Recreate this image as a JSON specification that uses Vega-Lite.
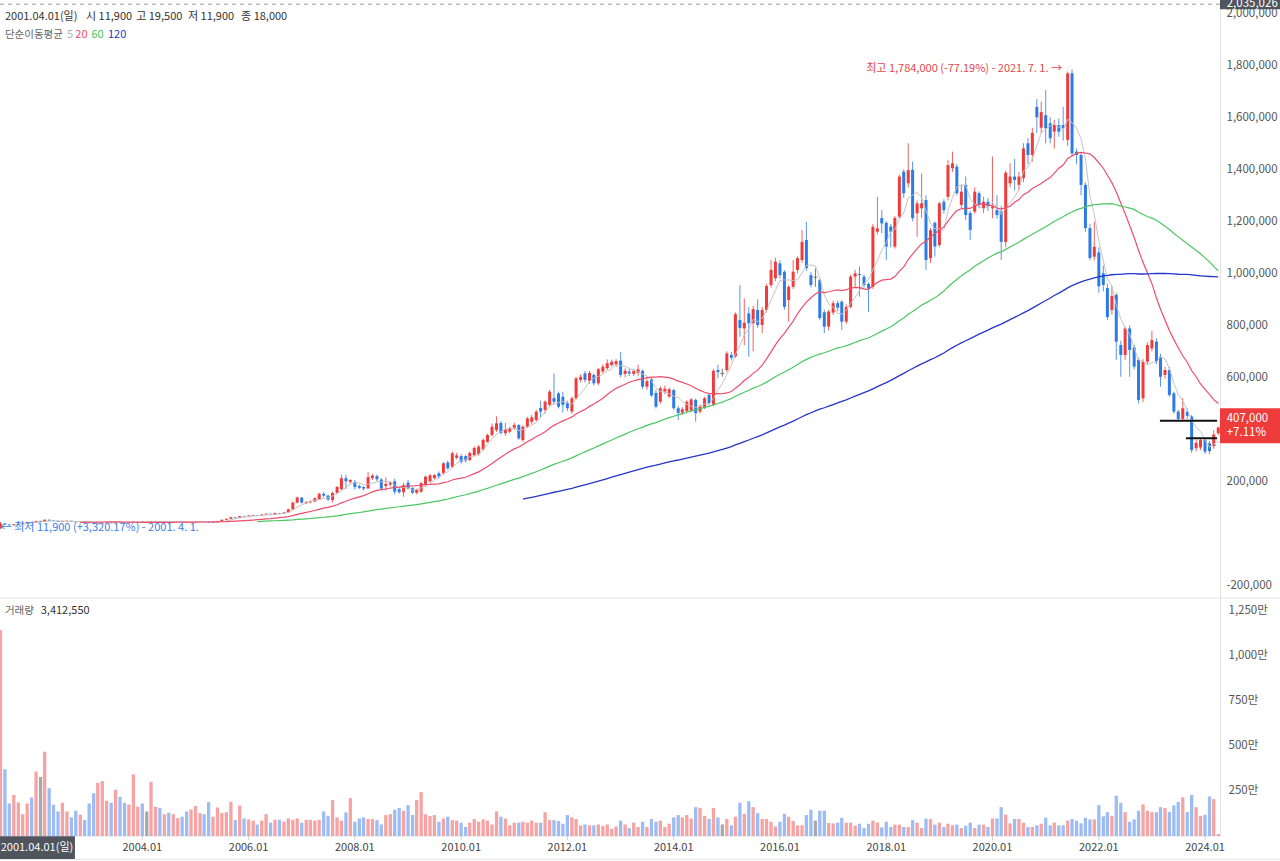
{
"$schema": "https://vega.github.io/schema/vega-lite/v6.json",
"width": 1220, "height": 836,
"autosize": {"type": "none"},
"padding": {"left": 0, "top": 0, "right": 60, "bottom": 25},
"background": "white",
"config": {"view": {"stroke": null}, "font": "Noto Sans CJK KR"},
"datasets": {"m": [
{"d":"2001-04-01","o":11900,"h":19500,"l":11900,"c":18000,"v":3412550},
{"d":"2001-05-01","o":18000,"h":44000,"l":17500,"c":38000,"v":11420000},
{"d":"2001-06-01","o":38000,"h":40000,"l":33000,"c":34000,"v":3700000},
{"d":"2001-07-01","o":34000,"h":35500,"l":30000,"c":31000,"v":1800000},
{"d":"2001-08-01","o":31000,"h":36000,"l":30500,"c":35000,"v":2280000},
{"d":"2001-09-01","o":35000,"h":38500,"l":33000,"c":37000,"v":1860000},
{"d":"2001-10-01","o":37000,"h":41000,"l":36000,"c":40000,"v":1210000},
{"d":"2001-11-01","o":40000,"h":44500,"l":39000,"c":43000,"v":1800000},
{"d":"2001-12-01","o":43000,"h":44000,"l":40000,"c":41000,"v":2130000},
{"d":"2002-01-01","o":41000,"h":48000,"l":40500,"c":46000,"v":3570000},
{"d":"2002-02-01","o":46000,"h":48000,"l":44000,"c":46000,"v":3270000},
{"d":"2002-03-01","o":46000,"h":54000,"l":45500,"c":52000,"v":4670000},
{"d":"2002-04-01","o":52000,"h":53500,"l":48000,"c":49000,"v":2650000},
{"d":"2002-05-01","o":49000,"h":50000,"l":46000,"c":47000,"v":1730000},
{"d":"2002-06-01","o":47000,"h":48000,"l":43000,"c":44000,"v":1360000},
{"d":"2002-07-01","o":44000,"h":47500,"l":43000,"c":46000,"v":1840000},
{"d":"2002-08-01","o":46000,"h":49000,"l":45000,"c":48000,"v":1360000},
{"d":"2002-09-01","o":48000,"h":48500,"l":44000,"c":45000,"v":1030000},
{"d":"2002-10-01","o":45000,"h":46000,"l":42000,"c":43000,"v":1400000},
{"d":"2002-11-01","o":43000,"h":46000,"l":42500,"c":45000,"v":1180000},
{"d":"2002-12-01","o":45000,"h":45500,"l":41000,"c":42000,"v":880000},
{"d":"2003-01-01","o":42000,"h":43000,"l":38500,"c":39000,"v":1800000},
{"d":"2003-02-01","o":39000,"h":40000,"l":35000,"c":36000,"v":2370000},
{"d":"2003-03-01","o":36000,"h":39000,"l":34500,"c":38000,"v":2940000},
{"d":"2003-04-01","o":38000,"h":42000,"l":37500,"c":41000,"v":3040000},
{"d":"2003-05-01","o":41000,"h":43000,"l":40000,"c":42000,"v":1950000},
{"d":"2003-06-01","o":42000,"h":42500,"l":39000,"c":40000,"v":1840000},
{"d":"2003-07-01","o":40000,"h":44000,"l":39500,"c":43000,"v":2560000},
{"d":"2003-08-01","o":43000,"h":43500,"l":40000,"c":41000,"v":2170000},
{"d":"2003-09-01","o":41000,"h":42000,"l":38000,"c":39000,"v":1840000},
{"d":"2003-10-01","o":39000,"h":42000,"l":38500,"c":41000,"v":1750000},
{"d":"2003-11-01","o":41000,"h":45500,"l":40500,"c":44000,"v":3420000},
{"d":"2003-12-01","o":44000,"h":46000,"l":43000,"c":45000,"v":1620000},
{"d":"2004-01-01","o":45000,"h":46000,"l":42000,"c":43000,"v":1800000},
{"d":"2004-02-01","o":43000,"h":44500,"l":42000,"c":43000,"v":1360000},
{"d":"2004-03-01","o":43000,"h":47500,"l":42500,"c":46000,"v":3000000},
{"d":"2004-04-01","o":46000,"h":48500,"l":45000,"c":47000,"v":1620000},
{"d":"2004-05-01","o":47000,"h":47500,"l":43000,"c":44000,"v":1550000},
{"d":"2004-06-01","o":44000,"h":46000,"l":43500,"c":45000,"v":1210000},
{"d":"2004-07-01","o":45000,"h":45500,"l":42000,"c":43000,"v":1290000},
{"d":"2004-08-01","o":43000,"h":45000,"l":42500,"c":44000,"v":1210000},
{"d":"2004-09-01","o":44000,"h":46000,"l":43500,"c":45000,"v":990000},
{"d":"2004-10-01","o":45000,"h":45500,"l":42000,"c":43000,"v":1070000},
{"d":"2004-11-01","o":43000,"h":43500,"l":40000,"c":41000,"v":1360000},
{"d":"2004-12-01","o":41000,"h":43000,"l":40500,"c":42000,"v":1470000},
{"d":"2005-01-01","o":42000,"h":45000,"l":41500,"c":44000,"v":1660000},
{"d":"2005-02-01","o":44000,"h":47000,"l":43500,"c":46000,"v":1270000},
{"d":"2005-03-01","o":46000,"h":46500,"l":43000,"c":44000,"v":1210000},
{"d":"2005-04-01","o":44000,"h":44500,"l":39000,"c":40000,"v":1880000},
{"d":"2005-05-01","o":40000,"h":44000,"l":39500,"c":43000,"v":1070000},
{"d":"2005-06-01","o":43000,"h":48000,"l":42500,"c":47000,"v":1580000},
{"d":"2005-07-01","o":47000,"h":53000,"l":46500,"c":52000,"v":1270000},
{"d":"2005-08-01","o":52000,"h":57000,"l":51000,"c":56000,"v":1320000},
{"d":"2005-09-01","o":56000,"h":63000,"l":55000,"c":62000,"v":1890000},
{"d":"2005-10-01","o":62000,"h":63000,"l":58000,"c":60000,"v":880000},
{"d":"2005-11-01","o":60000,"h":67000,"l":59500,"c":66000,"v":1690000},
{"d":"2005-12-01","o":66000,"h":68000,"l":63000,"c":65000,"v":970000},
{"d":"2006-01-01","o":65000,"h":70000,"l":64000,"c":68000,"v":920000},
{"d":"2006-02-01","o":68000,"h":72000,"l":67000,"c":70000,"v":850000},
{"d":"2006-03-01","o":70000,"h":71000,"l":66000,"c":68000,"v":640000},
{"d":"2006-04-01","o":68000,"h":74000,"l":67000,"c":72000,"v":850000},
{"d":"2006-05-01","o":72000,"h":77000,"l":70000,"c":75000,"v":1210000},
{"d":"2006-06-01","o":75000,"h":76000,"l":70000,"c":73000,"v":740000},
{"d":"2006-07-01","o":73000,"h":80000,"l":72000,"c":78000,"v":900000},
{"d":"2006-08-01","o":78000,"h":79000,"l":74000,"c":76000,"v":900000},
{"d":"2006-09-01","o":76000,"h":82000,"l":75000,"c":80000,"v":790000},
{"d":"2006-10-01","o":80000,"h":95000,"l":79000,"c":92000,"v":970000},
{"d":"2006-11-01","o":92000,"h":122000,"l":91000,"c":118000,"v":900000},
{"d":"2006-12-01","o":118000,"h":141000,"l":115000,"c":138000,"v":970000},
{"d":"2007-01-01","o":137000,"h":140000,"l":114000,"c":118000,"v":740000},
{"d":"2007-02-01","o":116000,"h":124000,"l":112000,"c":120000,"v":900000},
{"d":"2007-03-01","o":119000,"h":126000,"l":115000,"c":122000,"v":900000},
{"d":"2007-04-01","o":122000,"h":138000,"l":120000,"c":135000,"v":850000},
{"d":"2007-05-01","o":130000,"h":156000,"l":128000,"c":152000,"v":900000},
{"d":"2007-06-01","o":152000,"h":158000,"l":140000,"c":145000,"v":1360000},
{"d":"2007-07-01","o":145000,"h":148000,"l":125000,"c":130000,"v":1120000},
{"d":"2007-08-01","o":128000,"h":160000,"l":118000,"c":155000,"v":1990000},
{"d":"2007-09-01","o":156000,"h":182000,"l":152000,"c":178000,"v":1030000},
{"d":"2007-10-01","o":170000,"h":225000,"l":165000,"c":212000,"v":850000},
{"d":"2007-11-01","o":212000,"h":225000,"l":170000,"c":200000,"v":1310000},
{"d":"2007-12-01","o":198000,"h":208000,"l":190000,"c":205000,"v":2100000},
{"d":"2008-01-01","o":198000,"h":205000,"l":168000,"c":178000,"v":790000},
{"d":"2008-02-01","o":182000,"h":188000,"l":170000,"c":175000,"v":970000},
{"d":"2008-03-01","o":178000,"h":180000,"l":165000,"c":172000,"v":1030000},
{"d":"2008-04-01","o":173000,"h":236000,"l":170000,"c":216000,"v":940000},
{"d":"2008-05-01","o":212000,"h":228000,"l":205000,"c":222000,"v":940000},
{"d":"2008-06-01","o":220000,"h":226000,"l":200000,"c":208000,"v":880000},
{"d":"2008-07-01","o":207000,"h":212000,"l":165000,"c":172000,"v":640000},
{"d":"2008-08-01","o":182000,"h":215000,"l":165000,"c":190000,"v":1160000},
{"d":"2008-09-01","o":188000,"h":200000,"l":180000,"c":195000,"v":1210000},
{"d":"2008-10-01","o":200000,"h":210000,"l":150000,"c":160000,"v":1450000},
{"d":"2008-11-01","o":170000,"h":180000,"l":152000,"c":158000,"v":1550000},
{"d":"2008-12-01","o":158000,"h":195000,"l":140000,"c":185000,"v":1400000},
{"d":"2009-01-01","o":195000,"h":205000,"l":168000,"c":172000,"v":1710000},
{"d":"2009-02-01","o":174000,"h":178000,"l":152000,"c":156000,"v":1160000},
{"d":"2009-03-01","o":156000,"h":172000,"l":150000,"c":167000,"v":1990000},
{"d":"2009-04-01","o":160000,"h":198000,"l":155000,"c":193000,"v":2430000},
{"d":"2009-05-01","o":185000,"h":222000,"l":180000,"c":218000,"v":1210000},
{"d":"2009-06-01","o":200000,"h":228000,"l":195000,"c":223000,"v":1100000},
{"d":"2009-07-01","o":212000,"h":228000,"l":208000,"c":224000,"v":1160000},
{"d":"2009-08-01","o":231000,"h":238000,"l":210000,"c":218000,"v":790000},
{"d":"2009-09-01","o":231000,"h":275000,"l":225000,"c":269000,"v":970000},
{"d":"2009-10-01","o":272000,"h":280000,"l":245000,"c":250000,"v":1070000},
{"d":"2009-11-01","o":256000,"h":315000,"l":250000,"c":308000,"v":880000},
{"d":"2009-12-01","o":290000,"h":310000,"l":285000,"c":300000,"v":850000},
{"d":"2010-01-01","o":297000,"h":305000,"l":268000,"c":275000,"v":740000},
{"d":"2010-02-01","o":297000,"h":302000,"l":272000,"c":280000,"v":500000},
{"d":"2010-03-01","o":282000,"h":314000,"l":278000,"c":309000,"v":740000},
{"d":"2010-04-01","o":300000,"h":334000,"l":295000,"c":328000,"v":940000},
{"d":"2010-05-01","o":305000,"h":340000,"l":298000,"c":333000,"v":790000},
{"d":"2010-06-01","o":323000,"h":365000,"l":318000,"c":359000,"v":920000},
{"d":"2010-07-01","o":352000,"h":383000,"l":348000,"c":378000,"v":850000},
{"d":"2010-08-01","o":378000,"h":422000,"l":372000,"c":410000,"v":640000},
{"d":"2010-09-01","o":397000,"h":450000,"l":390000,"c":423000,"v":1360000},
{"d":"2010-10-01","o":424000,"h":432000,"l":380000,"c":386000,"v":1070000},
{"d":"2010-11-01","o":385000,"h":425000,"l":375000,"c":400000,"v":970000},
{"d":"2010-12-01","o":391000,"h":410000,"l":385000,"c":404000,"v":590000},
{"d":"2011-01-01","o":404000,"h":425000,"l":398000,"c":417000,"v":740000},
{"d":"2011-02-01","o":416000,"h":420000,"l":360000,"c":365000,"v":740000},
{"d":"2011-03-01","o":359000,"h":415000,"l":352000,"c":410000,"v":790000},
{"d":"2011-04-01","o":410000,"h":448000,"l":405000,"c":442000,"v":740000},
{"d":"2011-05-01","o":429000,"h":455000,"l":420000,"c":446000,"v":850000},
{"d":"2011-06-01","o":436000,"h":475000,"l":430000,"c":468000,"v":740000},
{"d":"2011-07-01","o":482000,"h":510000,"l":445000,"c":468000,"v":740000},
{"d":"2011-08-01","o":474000,"h":512000,"l":460000,"c":506000,"v":1320000},
{"d":"2011-09-01","o":494000,"h":552000,"l":488000,"c":545000,"v":880000},
{"d":"2011-10-01","o":520000,"h":615000,"l":495000,"c":506000,"v":880000},
{"d":"2011-11-01","o":538000,"h":545000,"l":480000,"c":487000,"v":830000},
{"d":"2011-12-01","o":525000,"h":545000,"l":465000,"c":494000,"v":680000},
{"d":"2012-01-01","o":500000,"h":510000,"l":470000,"c":481000,"v":1160000},
{"d":"2012-02-01","o":468000,"h":525000,"l":460000,"c":519000,"v":1030000},
{"d":"2012-03-01","o":519000,"h":602000,"l":515000,"c":596000,"v":940000},
{"d":"2012-04-01","o":590000,"h":612000,"l":580000,"c":602000,"v":590000},
{"d":"2012-05-01","o":615000,"h":625000,"l":580000,"c":590000,"v":640000},
{"d":"2012-06-01","o":586000,"h":625000,"l":575000,"c":617000,"v":590000},
{"d":"2012-07-01","o":609000,"h":615000,"l":568000,"c":577000,"v":590000},
{"d":"2012-08-01","o":577000,"h":636000,"l":570000,"c":631000,"v":640000},
{"d":"2012-09-01","o":622000,"h":650000,"l":615000,"c":641000,"v":550000},
{"d":"2012-10-01","o":635000,"h":669000,"l":628000,"c":654000,"v":640000},
{"d":"2012-11-01","o":647000,"h":668000,"l":640000,"c":660000,"v":400000},
{"d":"2012-12-01","o":650000,"h":670000,"l":640000,"c":662000,"v":530000},
{"d":"2013-01-01","o":664000,"h":698000,"l":600000,"c":609000,"v":850000},
{"d":"2013-02-01","o":613000,"h":635000,"l":600000,"c":625000,"v":640000},
{"d":"2013-03-01","o":622000,"h":632000,"l":605000,"c":615000,"v":440000},
{"d":"2013-04-01","o":613000,"h":632000,"l":605000,"c":624000,"v":740000},
{"d":"2013-05-01","o":617000,"h":648000,"l":606000,"c":631000,"v":500000},
{"d":"2013-06-01","o":625000,"h":630000,"l":555000,"c":564000,"v":790000},
{"d":"2013-07-01","o":564000,"h":596000,"l":552000,"c":585000,"v":500000},
{"d":"2013-08-01","o":592000,"h":598000,"l":525000,"c":530000,"v":940000},
{"d":"2013-09-01","o":540000,"h":552000,"l":480000,"c":487000,"v":790000},
{"d":"2013-10-01","o":506000,"h":565000,"l":498000,"c":558000,"v":850000},
{"d":"2013-11-01","o":545000,"h":568000,"l":535000,"c":556000,"v":500000},
{"d":"2013-12-01","o":526000,"h":560000,"l":520000,"c":554000,"v":680000},
{"d":"2014-01-01","o":551000,"h":556000,"l":475000,"c":481000,"v":1030000},
{"d":"2014-02-01","o":481000,"h":490000,"l":436000,"c":463000,"v":1160000},
{"d":"2014-03-01","o":464000,"h":485000,"l":455000,"c":477000,"v":1030000},
{"d":"2014-04-01","o":470000,"h":512000,"l":462000,"c":506000,"v":1160000},
{"d":"2014-05-01","o":472000,"h":520000,"l":465000,"c":515000,"v":970000},
{"d":"2014-06-01","o":513000,"h":518000,"l":429000,"c":462000,"v":1600000},
{"d":"2014-07-01","o":468000,"h":495000,"l":460000,"c":487000,"v":1560000},
{"d":"2014-08-01","o":485000,"h":525000,"l":478000,"c":519000,"v":1120000},
{"d":"2014-09-01","o":532000,"h":540000,"l":492000,"c":500000,"v":940000},
{"d":"2014-10-01","o":495000,"h":632000,"l":488000,"c":625000,"v":1560000},
{"d":"2014-11-01","o":628000,"h":648000,"l":596000,"c":620000,"v":1030000},
{"d":"2014-12-01","o":615000,"h":633000,"l":602000,"c":615000,"v":640000},
{"d":"2015-01-01","o":628000,"h":700000,"l":620000,"c":692000,"v":940000},
{"d":"2015-02-01","o":686000,"h":698000,"l":665000,"c":675000,"v":590000},
{"d":"2015-03-01","o":680000,"h":850000,"l":675000,"c":843000,"v":1070000},
{"d":"2015-04-01","o":820000,"h":955000,"l":756000,"c":790000,"v":1840000},
{"d":"2015-05-01","o":788000,"h":904000,"l":724000,"c":810000,"v":1230000},
{"d":"2015-06-01","o":846000,"h":870000,"l":679000,"c":808000,"v":1930000},
{"d":"2015-07-01","o":808000,"h":875000,"l":700000,"c":862000,"v":1600000},
{"d":"2015-08-01","o":859000,"h":900000,"l":790000,"c":801000,"v":1270000},
{"d":"2015-09-01","o":801000,"h":870000,"l":769000,"c":859000,"v":940000},
{"d":"2015-10-01","o":859000,"h":960000,"l":850000,"c":951000,"v":940000},
{"d":"2015-11-01","o":955000,"h":1051000,"l":945000,"c":1013000,"v":790000},
{"d":"2015-12-01","o":981000,"h":1060000,"l":970000,"c":1045000,"v":530000},
{"d":"2016-01-01","o":1038000,"h":1050000,"l":980000,"c":993000,"v":790000},
{"d":"2016-02-01","o":1006000,"h":1012000,"l":860000,"c":871000,"v":1230000},
{"d":"2016-03-01","o":897000,"h":955000,"l":814000,"c":948000,"v":1070000},
{"d":"2016-04-01","o":948000,"h":1051000,"l":940000,"c":1006000,"v":830000},
{"d":"2016-05-01","o":1013000,"h":1065000,"l":1000000,"c":1058000,"v":590000},
{"d":"2016-06-01","o":1051000,"h":1166000,"l":1040000,"c":1121000,"v":590000},
{"d":"2016-07-01","o":1128000,"h":1198000,"l":1010000,"c":1020000,"v":1160000},
{"d":"2016-08-01","o":993000,"h":1005000,"l":945000,"c":955000,"v":1450000},
{"d":"2016-09-01","o":985000,"h":1019000,"l":948000,"c":985000,"v":850000},
{"d":"2016-10-01","o":974000,"h":980000,"l":820000,"c":828000,"v":1400000},
{"d":"2016-11-01","o":850000,"h":860000,"l":770000,"c":795000,"v":1400000},
{"d":"2016-12-01","o":795000,"h":860000,"l":780000,"c":853000,"v":720000},
{"d":"2017-01-01","o":849000,"h":895000,"l":840000,"c":885000,"v":700000},
{"d":"2017-02-01","o":885000,"h":895000,"l":855000,"c":868000,"v":740000},
{"d":"2017-03-01","o":891000,"h":895000,"l":782000,"c":814000,"v":1010000},
{"d":"2017-04-01","o":814000,"h":880000,"l":805000,"c":870000,"v":740000},
{"d":"2017-05-01","o":871000,"h":995000,"l":865000,"c":987000,"v":740000},
{"d":"2017-06-01","o":987000,"h":1013000,"l":948000,"c":1000000,"v":570000},
{"d":"2017-07-01","o":997000,"h":1026000,"l":910000,"c":993000,"v":680000},
{"d":"2017-08-01","o":987000,"h":995000,"l":945000,"c":955000,"v":440000},
{"d":"2017-09-01","o":959000,"h":965000,"l":852000,"c":942000,"v":680000},
{"d":"2017-10-01","o":948000,"h":1190000,"l":940000,"c":1179000,"v":850000},
{"d":"2017-11-01","o":1160000,"h":1294000,"l":1150000,"c":1173000,"v":740000},
{"d":"2017-12-01","o":1212000,"h":1244000,"l":1154000,"c":1192000,"v":480000},
{"d":"2018-01-01","o":1194000,"h":1200000,"l":1051000,"c":1103000,"v":790000},
{"d":"2018-02-01","o":1180000,"h":1190000,"l":1100000,"c":1160000,"v":500000},
{"d":"2018-03-01","o":1103000,"h":1220000,"l":1095000,"c":1213000,"v":630000},
{"d":"2018-04-01","o":1218000,"h":1380000,"l":1210000,"c":1372000,"v":630000},
{"d":"2018-05-01","o":1391000,"h":1400000,"l":1290000,"c":1308000,"v":500000},
{"d":"2018-06-01","o":1346000,"h":1500000,"l":1330000,"c":1397000,"v":500000},
{"d":"2018-07-01","o":1398000,"h":1430000,"l":1200000,"c":1212000,"v":880000},
{"d":"2018-08-01","o":1231000,"h":1280000,"l":1141000,"c":1269000,"v":740000},
{"d":"2018-09-01","o":1250000,"h":1384000,"l":1212000,"c":1269000,"v":440000},
{"d":"2018-10-01","o":1282000,"h":1300000,"l":1013000,"c":1051000,"v":960000},
{"d":"2018-11-01","o":1058000,"h":1175000,"l":1040000,"c":1166000,"v":940000},
{"d":"2018-12-01","o":1194000,"h":1200000,"l":1064000,"c":1103000,"v":630000},
{"d":"2019-01-01","o":1109000,"h":1275000,"l":1100000,"c":1269000,"v":740000},
{"d":"2019-02-01","o":1275000,"h":1285000,"l":1230000,"c":1243000,"v":500000},
{"d":"2019-03-01","o":1294000,"h":1436000,"l":1280000,"c":1416000,"v":680000},
{"d":"2019-04-01","o":1404000,"h":1468000,"l":1390000,"c":1423000,"v":590000},
{"d":"2019-05-01","o":1410000,"h":1420000,"l":1300000,"c":1308000,"v":630000},
{"d":"2019-06-01","o":1263000,"h":1340000,"l":1250000,"c":1314000,"v":440000},
{"d":"2019-07-01","o":1340000,"h":1372000,"l":1205000,"c":1224000,"v":570000},
{"d":"2019-08-01","o":1232000,"h":1240000,"l":1128000,"c":1167000,"v":740000},
{"d":"2019-09-01","o":1237000,"h":1330000,"l":1230000,"c":1314000,"v":440000},
{"d":"2019-10-01","o":1308000,"h":1315000,"l":1250000,"c":1263000,"v":630000},
{"d":"2019-11-01","o":1250000,"h":1295000,"l":1231000,"c":1275000,"v":630000},
{"d":"2019-12-01","o":1275000,"h":1290000,"l":1240000,"c":1257000,"v":500000},
{"d":"2020-01-01","o":1250000,"h":1449000,"l":1212000,"c":1257000,"v":970000},
{"d":"2020-02-01","o":1243000,"h":1300000,"l":1210000,"c":1224000,"v":970000},
{"d":"2020-03-01","o":1237000,"h":1260000,"l":1051000,"c":1121000,"v":1600000},
{"d":"2020-04-01","o":1121000,"h":1395000,"l":1100000,"c":1387000,"v":1180000},
{"d":"2020-05-01","o":1346000,"h":1423000,"l":1330000,"c":1372000,"v":700000},
{"d":"2020-06-01","o":1372000,"h":1440000,"l":1320000,"c":1359000,"v":940000},
{"d":"2020-07-01","o":1340000,"h":1390000,"l":1320000,"c":1372000,"v":940000},
{"d":"2020-08-01","o":1366000,"h":1500000,"l":1350000,"c":1480000,"v":740000},
{"d":"2020-09-01","o":1500000,"h":1520000,"l":1420000,"c":1455000,"v":500000},
{"d":"2020-10-01","o":1455000,"h":1560000,"l":1430000,"c":1540000,"v":500000},
{"d":"2020-11-01","o":1640000,"h":1670000,"l":1540000,"c":1600000,"v":590000},
{"d":"2020-12-01","o":1560000,"h":1660000,"l":1540000,"c":1620000,"v":680000},
{"d":"2021-01-01","o":1608000,"h":1705000,"l":1500000,"c":1558000,"v":1010000},
{"d":"2021-02-01","o":1577000,"h":1600000,"l":1500000,"c":1519000,"v":590000},
{"d":"2021-03-01","o":1545000,"h":1590000,"l":1480000,"c":1570000,"v":740000},
{"d":"2021-04-01","o":1570000,"h":1595000,"l":1525000,"c":1545000,"v":590000},
{"d":"2021-05-01","o":1570000,"h":1640000,"l":1510000,"c":1558000,"v":590000},
{"d":"2021-06-01","o":1513000,"h":1776000,"l":1490000,"c":1769000,"v":850000},
{"d":"2021-07-01","o":1769000,"h":1784000,"l":1450000,"c":1461000,"v":940000},
{"d":"2021-08-01","o":1468000,"h":1480000,"l":1420000,"c":1455000,"v":850000},
{"d":"2021-09-01","o":1455000,"h":1465000,"l":1300000,"c":1340000,"v":700000},
{"d":"2021-10-01","o":1340000,"h":1350000,"l":1160000,"c":1174000,"v":1010000},
{"d":"2021-11-01","o":1174000,"h":1190000,"l":1050000,"c":1059000,"v":920000},
{"d":"2021-12-01","o":1064000,"h":1198000,"l":1050000,"c":1102000,"v":920000},
{"d":"2022-01-01","o":1080000,"h":1100000,"l":925000,"c":950000,"v":1710000},
{"d":"2022-02-01","o":1000000,"h":1030000,"l":930000,"c":955000,"v":1090000},
{"d":"2022-03-01","o":943000,"h":960000,"l":820000,"c":832000,"v":1320000},
{"d":"2022-04-01","o":859000,"h":951000,"l":840000,"c":913000,"v":1120000},
{"d":"2022-05-01","o":917000,"h":925000,"l":667000,"c":737000,"v":2230000},
{"d":"2022-06-01","o":724000,"h":740000,"l":602000,"c":686000,"v":1840000},
{"d":"2022-07-01","o":686000,"h":795000,"l":667000,"c":788000,"v":1320000},
{"d":"2022-08-01","o":788000,"h":800000,"l":602000,"c":705000,"v":790000},
{"d":"2022-09-01","o":715000,"h":725000,"l":630000,"c":641000,"v":920000},
{"d":"2022-10-01","o":667000,"h":675000,"l":500000,"c":513000,"v":1400000},
{"d":"2022-11-01","o":519000,"h":670000,"l":505000,"c":660000,"v":1750000},
{"d":"2022-12-01","o":660000,"h":735000,"l":650000,"c":724000,"v":1400000},
{"d":"2023-01-01","o":711000,"h":778000,"l":700000,"c":743000,"v":1320000},
{"d":"2023-02-01","o":737000,"h":750000,"l":650000,"c":660000,"v":1320000},
{"d":"2023-03-01","o":679000,"h":690000,"l":564000,"c":602000,"v":1600000},
{"d":"2023-04-01","o":609000,"h":640000,"l":595000,"c":628000,"v":1550000},
{"d":"2023-05-01","o":628000,"h":640000,"l":525000,"c":532000,"v":1340000},
{"d":"2023-06-01","o":538000,"h":545000,"l":460000,"c":468000,"v":1690000},
{"d":"2023-07-01","o":468000,"h":475000,"l":430000,"c":440000,"v":1890000},
{"d":"2023-08-01","o":440000,"h":519000,"l":430000,"c":481000,"v":2140000},
{"d":"2023-09-01","o":468000,"h":480000,"l":440000,"c":452000,"v":1320000},
{"d":"2023-10-01","o":449000,"h":455000,"l":310000,"c":320000,"v":2280000},
{"d":"2023-11-01","o":327000,"h":360000,"l":315000,"c":348000,"v":1600000},
{"d":"2023-12-01","o":330000,"h":365000,"l":320000,"c":359000,"v":1120000},
{"d":"2024-01-01","o":359000,"h":365000,"l":305000,"c":314000,"v":1180000},
{"d":"2024-02-01","o":346000,"h":355000,"l":305000,"c":316000,"v":2190000},
{"d":"2024-03-01","o":335000,"h":397000,"l":325000,"c":380000,"v":2040000},
{"d":"2024-04-01","o":385000,"h":410000,"l":378000,"c":407000,"v":110000}
],
"ticks": [
{"t":"2004-01-01","lab":"2004.01"},
{"t":"2006-01-01","lab":"2006.01"},
{"t":"2008-01-01","lab":"2008.01"},
{"t":"2010-01-01","lab":"2010.01"},
{"t":"2012-01-01","lab":"2012.01"},
{"t":"2014-01-01","lab":"2014.01"},
{"t":"2016-01-01","lab":"2016.01"},
{"t":"2018-01-01","lab":"2018.01"},
{"t":"2020-01-01","lab":"2020.01"},
{"t":"2022-01-01","lab":"2022.01"},
{"t":"2024-01-01","lab":"2024.01"}
]},
"layer": [
{"data": {"values": [{}]},
 "mark": {"type": "rule", "color": "#e0e0e0", "strokeWidth": 1},
 "encoding": {"y": {"datum": 0, "type": "quantitative", "axis": null, "scale": {"domain": [0, 46320000], "nice": false, "zero": false, "padding": 0}}}},
{"data": {"values": [{}]},
 "mark": {"type": "rule", "color": "#e6e6e6", "strokeWidth": 1, "clip": false},
 "encoding": {
  "x": {"datum": {"year": 2001, "month": 4, "date": 28, "utc": true}, "type": "temporal", "axis": null, "scale": {"type": "utc", "padding": 0, "domain": [{"year": 2001, "month": 4, "date": 28, "utc": true}, {"year": 2024, "month": 4, "date": 13, "utc": true}]}},
  "x2": {"datum": {"year": 2025, "month": 6, "date": 1, "utc": true}},
  "y": {"datum": -1291000, "type": "quantitative", "axis": null, "scale": {"domain": [0, 46320000], "nice": false, "zero": false, "padding": 0}}}},
{"data": {"name": "m"},
 "mark": {"type": "bar", "width": 3.3},
 "encoding": {
  "x": {"field": "d", "type": "temporal", "axis": null,
   "scale": {"type": "utc", "padding": 0, "domain": [{"year": 2001, "month": 4, "date": 28, "utc": true}, {"year": 2024, "month": 4, "date": 13, "utc": true}]}},
  "y": {"field": "v", "type": "quantitative", "title": null,
   "scale": {"domain": [0, 46320000], "nice": false, "zero": false, "padding": 0},
   "axis": {"orient": "right", "title": null, "grid": false, "ticks": false, "domain": false, "labelColor": "#555", "labelFontSize": 11.5, "labelPadding": 8, "labelFlush": false, "labelOverlap": false, "labelBound": false, "labelFont": "Noto Sans CJK KR",
    "values": [2500000, 5000000, 7500000, 10000000, 12500000],
    "labelExpr": "format(datum.value / 10000, ',') + '만'"}},
  "color": {"condition": [{"test": "datum.c > datum.o", "value": "#f6a3a3"}, {"test": "datum.c < datum.o", "value": "#9dbcf4"}], "value": "#a8a8a8"}
 }},
{"data": {"name": "ticks"},
 "mark": {"type": "rule", "color": "#cfcfcf", "strokeWidth": 1, "clip": false},
 "encoding": {
  "x": {"field": "t", "type": "temporal", "axis": null, "scale": {"type": "utc", "padding": 0, "domain": [{"year": 2001, "month": 4, "date": 28, "utc": true}, {"year": 2024, "month": 4, "date": 13, "utc": true}]}},
  "y": {"datum": 0, "type": "quantitative", "axis": null, "scale": {"domain": [0, 46320000], "nice": false, "zero": false, "padding": 0}},
  "y2": {"datum": -220000}}},
{"data": {"name": "ticks"},
 "mark": {"type": "text", "align": "center", "baseline": "middle", "fontSize": 11, "color": "#444444", "clip": false},
 "encoding": {
  "x": {"field": "t", "type": "temporal", "axis": null, "scale": {"type": "utc", "padding": 0, "domain": [{"year": 2001, "month": 4, "date": 28, "utc": true}, {"year": 2024, "month": 4, "date": 13, "utc": true}]}},
  "y": {"datum": -665000, "type": "quantitative", "axis": null, "scale": {"domain": [0, 46320000], "nice": false, "zero": false, "padding": 0}},
  "text": {"field": "lab", "type": "nominal"}}},
{"data": {"name": "m"},
 "mark": {"type": "rule", "strokeWidth": 1, "opacity": 0.8},
 "encoding": {
  "x": {"field": "d", "type": "temporal", "axis": null, "scale": {"type": "utc", "padding": 0, "domain": [{"year": 2001, "month": 4, "date": 28, "utc": true}, {"year": 2024, "month": 4, "date": 13, "utc": true}]}},
  "y": {"field": "l", "type": "quantitative", "axis": null, "scale": {"domain": [-1164231, 2051154], "nice": false, "zero": false, "padding": 0}},
  "y2": {"field": "h"},
  "color": {"condition": [{"test": "datum.c > datum.o", "value": "#ee3b3b"}, {"test": "datum.c < datum.o", "value": "#2d7be5"}], "value": "#555555"}
 }},
{"data": {"name": "m"},
 "mark": {"type": "bar", "width": 3},
 "encoding": {
  "x": {"field": "d", "type": "temporal", "axis": null, "scale": {"type": "utc", "padding": 0, "domain": [{"year": 2001, "month": 4, "date": 28, "utc": true}, {"year": 2024, "month": 4, "date": 13, "utc": true}]}},
  "y": {"field": "o", "type": "quantitative", "title": null, "scale": {"domain": [-1164231, 2051154], "nice": false, "zero": false, "padding": 0},
   "axis": {"orient": "right", "title": null, "grid": false, "ticks": false, "domain": true, "domainColor": "#e3e3e3", "labelColor": "#555", "labelFontSize": 11.5, "labelPadding": 6, "labelFlush": false, "labelOverlap": false, "labelBound": false, "labelFont": "Noto Sans CJK KR",
    "values": [-200000, 200000, 600000, 800000, 1000000, 1200000, 1400000, 1600000, 1800000, 2000000],
    "labelExpr": "replace(format(datum.value, ','), '\u2212', '-')"}},
  "y2": {"field": "c"},
  "color": {"condition": [{"test": "datum.c > datum.o", "value": "#ee3b3b"}, {"test": "datum.c < datum.o", "value": "#2d7be5"}], "value": "#555555"}
 }},
{"data": {"name": "m"},
 "transform": [{"filter": "datum.o == datum.c"}],
 "mark": {"type": "tick", "orient": "horizontal", "size": 4, "thickness": 1, "color": "#555555"},
 "encoding": {
  "x": {"field": "d", "type": "temporal", "axis": null, "scale": {"type": "utc", "padding": 0, "domain": [{"year": 2001, "month": 4, "date": 28, "utc": true}, {"year": 2024, "month": 4, "date": 13, "utc": true}]}},
  "y": {"field": "c", "type": "quantitative", "axis": null, "scale": {"domain": [-1164231, 2051154], "nice": false, "zero": false, "padding": 0}}
 }},
{"data": {"name": "m"},
 "transform": [{"window": [{"op": "mean", "field": "c", "as": "ma"}, {"op": "count", "as": "n"}], "frame": [-4, 0], "sort": [{"field": "d"}]}, {"filter": "datum.n >= 5"}],
 "mark": {"type": "line", "strokeWidth": 1, "color": "#c4c4c4"},
 "encoding": {
  "x": {"field": "d", "type": "temporal", "axis": null, "scale": {"type": "utc", "padding": 0, "domain": [{"year": 2001, "month": 4, "date": 28, "utc": true}, {"year": 2024, "month": 4, "date": 13, "utc": true}]}},
  "y": {"field": "ma", "type": "quantitative", "axis": null, "scale": {"domain": [-1164231, 2051154], "nice": false, "zero": false, "padding": 0}}
 }},
{"data": {"name": "m"},
 "transform": [{"window": [{"op": "mean", "field": "c", "as": "ma"}, {"op": "count", "as": "n"}], "frame": [-19, 0], "sort": [{"field": "d"}]}, {"filter": "datum.n >= 20"}],
 "mark": {"type": "line", "strokeWidth": 1.2, "color": "#ee4d6a"},
 "encoding": {
  "x": {"field": "d", "type": "temporal", "axis": null, "scale": {"type": "utc", "padding": 0, "domain": [{"year": 2001, "month": 4, "date": 28, "utc": true}, {"year": 2024, "month": 4, "date": 13, "utc": true}]}},
  "y": {"field": "ma", "type": "quantitative", "axis": null, "scale": {"domain": [-1164231, 2051154], "nice": false, "zero": false, "padding": 0}}
 }},
{"data": {"name": "m"},
 "transform": [{"window": [{"op": "mean", "field": "c", "as": "ma"}, {"op": "count", "as": "n"}], "frame": [-59, 0], "sort": [{"field": "d"}]}, {"filter": "datum.n >= 60"}],
 "mark": {"type": "line", "strokeWidth": 1.2, "color": "#4cc764"},
 "encoding": {
  "x": {"field": "d", "type": "temporal", "axis": null, "scale": {"type": "utc", "padding": 0, "domain": [{"year": 2001, "month": 4, "date": 28, "utc": true}, {"year": 2024, "month": 4, "date": 13, "utc": true}]}},
  "y": {"field": "ma", "type": "quantitative", "axis": null, "scale": {"domain": [-1164231, 2051154], "nice": false, "zero": false, "padding": 0}}
 }},
{"data": {"name": "m"},
 "transform": [{"window": [{"op": "mean", "field": "c", "as": "ma"}, {"op": "count", "as": "n"}], "frame": [-119, 0], "sort": [{"field": "d"}]}, {"filter": "datum.n >= 120"}],
 "mark": {"type": "line", "strokeWidth": 1.3, "color": "#2536c8"},
 "encoding": {
  "x": {"field": "d", "type": "temporal", "axis": null, "scale": {"type": "utc", "padding": 0, "domain": [{"year": 2001, "month": 4, "date": 28, "utc": true}, {"year": 2024, "month": 4, "date": 13, "utc": true}]}},
  "y": {"field": "ma", "type": "quantitative", "axis": null, "scale": {"domain": [-1164231, 2051154], "nice": false, "zero": false, "padding": 0}}
 }},
{"data": {"values": [{}]},
 "mark": {"type": "rule", "color": "#e4e4e4", "strokeWidth": 1, "clip": false},
 "encoding": {
  "x": {"datum": {"year": 2001, "month": 4, "date": 28, "utc": true}, "type": "temporal", "axis": null, "scale": {"type": "utc", "padding": 0, "domain": [{"year": 2001, "month": 4, "date": 28, "utc": true}, {"year": 2024, "month": 4, "date": 13, "utc": true}]}},
  "x2": {"datum": {"year": 2025, "month": 6, "date": 1, "utc": true}},
  "y": {"datum": -248800, "type": "quantitative", "axis": null, "scale": {"domain": [-1164231, 2051154], "nice": false, "zero": false, "padding": 0}}}},
{"data": {"values": [{}]},
 "mark": {"type": "rule", "color": "#9a9a9a", "strokeWidth": 1, "strokeDash": [4, 4]},
 "encoding": {"y": {"datum": 2035026, "type": "quantitative", "axis": null, "scale": {"domain": [-1164231, 2051154], "nice": false, "zero": false, "padding": 0}}}},
{"data": {"values": [{}]},
 "mark": {"type": "rule", "color": "#111111", "strokeWidth": 2},
 "encoding": {
  "x": {"datum": {"year": 2023, "month": 2, "date": 25, "utc": true}, "type": "temporal", "axis": null, "scale": {"type": "utc", "padding": 0, "domain": [{"year": 2001, "month": 4, "date": 28, "utc": true}, {"year": 2024, "month": 4, "date": 13, "utc": true}]}},
  "x2": {"datum": {"year": 2024, "month": 3, "date": 24, "utc": true}},
  "y": {"datum": 433000, "type": "quantitative", "axis": null, "scale": {"domain": [-1164231, 2051154], "nice": false, "zero": false, "padding": 0}}}},
{"data": {"values": [{}]},
 "mark": {"type": "rule", "color": "#111111", "strokeWidth": 2},
 "encoding": {
  "x": {"datum": {"year": 2023, "month": 8, "date": 23, "utc": true}, "type": "temporal", "axis": null, "scale": {"type": "utc", "padding": 0, "domain": [{"year": 2001, "month": 4, "date": 28, "utc": true}, {"year": 2024, "month": 4, "date": 13, "utc": true}]}},
  "x2": {"datum": {"year": 2024, "month": 3, "date": 24, "utc": true}},
  "y": {"datum": 365400, "type": "quantitative", "axis": null, "scale": {"domain": [-1164231, 2051154], "nice": false, "zero": false, "padding": 0}}}},
{"data": {"values": [{}]},
 "mark": {"type": "rect", "color": "#ee3b3b", "clip": false},
 "encoding": {
  "x": {"datum": {"year": 2024, "month": 4, "date": 13, "utc": true}, "type": "temporal", "axis": null, "scale": {"type": "utc", "padding": 0, "domain": [{"year": 2001, "month": 4, "date": 28, "utc": true}, {"year": 2024, "month": 4, "date": 13, "utc": true}]}},
  "x2": {"datum": {"year": 2025, "month": 6, "date": 1, "utc": true}},
  "y": {"datum": 480800, "type": "quantitative", "axis": null, "scale": {"domain": [-1164231, 2051154], "nice": false, "zero": false, "padding": 0}},
  "y2": {"datum": 346200}}},
{"data": {"values": [{}]},
 "mark": {"type": "rect", "color": "#4f545d", "clip": false},
 "encoding": {
  "x": {"datum": {"year": 2024, "month": 4, "date": 13, "utc": true}, "type": "temporal", "axis": null, "scale": {"type": "utc", "padding": 0, "domain": [{"year": 2001, "month": 4, "date": 28, "utc": true}, {"year": 2024, "month": 4, "date": 13, "utc": true}]}},
  "x2": {"datum": {"year": 2025, "month": 6, "date": 1, "utc": true}},
  "y": {"datum": 2100000, "type": "quantitative", "axis": null, "scale": {"domain": [-1164231, 2051154], "nice": false, "zero": false, "padding": 0}},
  "y2": {"datum": 2015400}}},
{"data": {"values": [{}]},
 "mark": {"type": "rect", "color": "#4f545d", "clip": false},
 "encoding": {
  "x": {"datum": {"year": 2001, "month": 4, "date": 28, "utc": true}, "type": "temporal", "axis": null, "scale": {"type": "utc", "padding": 0, "domain": [{"year": 2001, "month": 4, "date": 28, "utc": true}, {"year": 2024, "month": 4, "date": 13, "utc": true}]}},
  "x2": {"datum": {"year": 2002, "month": 9, "date": 25, "utc": true}},
  "y": {"datum": -20000, "type": "quantitative", "axis": null, "scale": {"domain": [0, 46320000], "nice": false, "zero": false, "padding": 0}},
  "y2": {"datum": -1274000}}},
{"data": {"values": [{}]},
 "mark": {"type": "text", "align": "left", "baseline": "middle", "fontSize": 11.5, "color": "#ffffff", "clip": false},
 "encoding": {
  "x": {"datum": {"year": 2024, "month": 5, "date": 29, "utc": true}, "type": "temporal", "axis": null, "scale": {"type": "utc", "padding": 0, "domain": [{"year": 2001, "month": 4, "date": 28, "utc": true}, {"year": 2024, "month": 4, "date": 13, "utc": true}]}},
  "y": {"datum": 438500, "type": "quantitative", "axis": null, "scale": {"domain": [-1164231, 2051154], "nice": false, "zero": false, "padding": 0}},
  "text": {"value": "407,000"}}},
{"data": {"values": [{}]},
 "mark": {"type": "text", "align": "left", "baseline": "middle", "fontSize": 11.5, "color": "#ffffff", "clip": false},
 "encoding": {
  "x": {"datum": {"year": 2024, "month": 5, "date": 29, "utc": true}, "type": "temporal", "axis": null, "scale": {"type": "utc", "padding": 0, "domain": [{"year": 2001, "month": 4, "date": 28, "utc": true}, {"year": 2024, "month": 4, "date": 13, "utc": true}]}},
  "y": {"datum": 384600, "type": "quantitative", "axis": null, "scale": {"domain": [-1164231, 2051154], "nice": false, "zero": false, "padding": 0}},
  "text": {"value": "+7.11%"}}},
{"data": {"values": [{}]},
 "mark": {"type": "text", "align": "left", "baseline": "middle", "fontSize": 11.5, "color": "#ffffff", "clip": false},
 "encoding": {
  "x": {"datum": {"year": 2024, "month": 5, "date": 29, "utc": true}, "type": "temporal", "axis": null, "scale": {"type": "utc", "padding": 0, "domain": [{"year": 2001, "month": 4, "date": 28, "utc": true}, {"year": 2024, "month": 4, "date": 13, "utc": true}]}},
  "y": {"datum": 2035026, "type": "quantitative", "axis": null, "scale": {"domain": [-1164231, 2051154], "nice": false, "zero": false, "padding": 0}},
  "text": {"value": "2,035,026"}}},
{"data": {"values": [{}]},
 "mark": {"type": "text", "align": "center", "baseline": "middle", "fontSize": 11, "color": "#ffffff", "clip": false},
 "encoding": {
  "x": {"datum": {"year": 2002, "month": 1, "date": 7, "utc": true}, "type": "temporal", "axis": null, "scale": {"type": "utc", "padding": 0, "domain": [{"year": 2001, "month": 4, "date": 28, "utc": true}, {"year": 2024, "month": 4, "date": 13, "utc": true}]}},
  "y": {"datum": -681000, "type": "quantitative", "axis": null, "scale": {"domain": [0, 46320000], "nice": false, "zero": false, "padding": 0}},
  "text": {"value": "2001.04.01(일)"}}},
{"data": {"values": [{}]},
 "mark": {"type": "text", "align": "right", "baseline": "middle", "fontSize": 11, "color": "#e54848"},
 "encoding": {
  "x": {"datum": {"year": 2021, "month": 4, "date": 23, "utc": true}, "type": "temporal", "axis": null, "scale": {"type": "utc", "padding": 0, "domain": [{"year": 2001, "month": 4, "date": 28, "utc": true}, {"year": 2024, "month": 4, "date": 13, "utc": true}]}},
  "y": {"datum": 1784000, "type": "quantitative", "axis": null, "scale": {"domain": [-1164231, 2051154], "nice": false, "zero": false, "padding": 0}},
  "text": {"value": "최고 1,784,000 (-77.19%) - 2021. 7. 1. →"}}},
{"data": {"values": [{}]},
 "mark": {"type": "text", "align": "left", "baseline": "middle", "fontSize": 11, "color": "#3d80e5"},
 "encoding": {
  "x": {"datum": {"year": 2001, "month": 5, "date": 3, "utc": true}, "type": "temporal", "axis": null, "scale": {"type": "utc", "padding": 0, "domain": [{"year": 2001, "month": 4, "date": 28, "utc": true}, {"year": 2024, "month": 4, "date": 13, "utc": true}]}},
  "y": {"datum": 22300, "type": "quantitative", "axis": null, "scale": {"domain": [-1164231, 2051154], "nice": false, "zero": false, "padding": 0}},
  "text": {"value": "← 최저 11,900 (+3,320.17%) - 2001. 4. 1."}}},
{"data": {"values": [{}]},
 "mark": {"type": "text", "align": "left", "baseline": "middle", "fontSize": 11, "color": "#333333"},
 "encoding": {
  "x": {"datum": {"year": 2001, "month": 6, "date": 1, "utc": true}, "type": "temporal", "axis": null, "scale": {"type": "utc", "padding": 0, "domain": [{"year": 2001, "month": 4, "date": 28, "utc": true}, {"year": 2024, "month": 4, "date": 13, "utc": true}]}},
  "y": {"datum": 1985800, "type": "quantitative", "axis": null, "scale": {"domain": [-1164231, 2051154], "nice": false, "zero": false, "padding": 0}},
  "text": {"value": "2001.04.01(일)"}}},
{"data": {"values": [{}]},
 "mark": {"type": "text", "align": "left", "baseline": "middle", "fontSize": 11, "color": "#333333"},
 "encoding": {
  "x": {"datum": {"year": 2002, "month": 12, "date": 10, "utc": true}, "type": "temporal", "axis": null, "scale": {"type": "utc", "padding": 0, "domain": [{"year": 2001, "month": 4, "date": 28, "utc": true}, {"year": 2024, "month": 4, "date": 13, "utc": true}]}},
  "y": {"datum": 1985800, "type": "quantitative", "axis": null, "scale": {"domain": [-1164231, 2051154], "nice": false, "zero": false, "padding": 0}},
  "text": {"value": "시 11,900"}}},
{"data": {"values": [{}]},
 "mark": {"type": "text", "align": "left", "baseline": "middle", "fontSize": 11, "color": "#333333"},
 "encoding": {
  "x": {"datum": {"year": 2003, "month": 11, "date": 20, "utc": true}, "type": "temporal", "axis": null, "scale": {"type": "utc", "padding": 0, "domain": [{"year": 2001, "month": 4, "date": 28, "utc": true}, {"year": 2024, "month": 4, "date": 13, "utc": true}]}},
  "y": {"datum": 1985800, "type": "quantitative", "axis": null, "scale": {"domain": [-1164231, 2051154], "nice": false, "zero": false, "padding": 0}},
  "text": {"value": "고 19,500"}}},
{"data": {"values": [{}]},
 "mark": {"type": "text", "align": "left", "baseline": "middle", "fontSize": 11, "color": "#333333"},
 "encoding": {
  "x": {"datum": {"year": 2004, "month": 11, "date": 10, "utc": true}, "type": "temporal", "axis": null, "scale": {"type": "utc", "padding": 0, "domain": [{"year": 2001, "month": 4, "date": 28, "utc": true}, {"year": 2024, "month": 4, "date": 13, "utc": true}]}},
  "y": {"datum": 1985800, "type": "quantitative", "axis": null, "scale": {"domain": [-1164231, 2051154], "nice": false, "zero": false, "padding": 0}},
  "text": {"value": "저 11,900"}}},
{"data": {"values": [{}]},
 "mark": {"type": "text", "align": "left", "baseline": "middle", "fontSize": 11, "color": "#333333"},
 "encoding": {
  "x": {"datum": {"year": 2005, "month": 11, "date": 10, "utc": true}, "type": "temporal", "axis": null, "scale": {"type": "utc", "padding": 0, "domain": [{"year": 2001, "month": 4, "date": 28, "utc": true}, {"year": 2024, "month": 4, "date": 13, "utc": true}]}},
  "y": {"datum": 1985800, "type": "quantitative", "axis": null, "scale": {"domain": [-1164231, 2051154], "nice": false, "zero": false, "padding": 0}},
  "text": {"value": "종 18,000"}}},
{"data": {"values": [{}]},
 "mark": {"type": "text", "align": "left", "baseline": "middle", "fontSize": 10.5, "color": "#666666"},
 "encoding": {
  "x": {"datum": {"year": 2001, "month": 6, "date": 1, "utc": true}, "type": "temporal", "axis": null, "scale": {"type": "utc", "padding": 0, "domain": [{"year": 2001, "month": 4, "date": 28, "utc": true}, {"year": 2024, "month": 4, "date": 13, "utc": true}]}},
  "y": {"datum": 1916500, "type": "quantitative", "axis": null, "scale": {"domain": [-1164231, 2051154], "nice": false, "zero": false, "padding": 0}},
  "text": {"value": "단순이동평균"}}},
{"data": {"values": [{}]},
 "mark": {"type": "text", "align": "left", "baseline": "middle", "fontSize": 11, "color": "#b5b5b5"},
 "encoding": {
  "x": {"datum": {"year": 2002, "month": 8, "date": 1, "utc": true}, "type": "temporal", "axis": null, "scale": {"type": "utc", "padding": 0, "domain": [{"year": 2001, "month": 4, "date": 28, "utc": true}, {"year": 2024, "month": 4, "date": 13, "utc": true}]}},
  "y": {"datum": 1916500, "type": "quantitative", "axis": null, "scale": {"domain": [-1164231, 2051154], "nice": false, "zero": false, "padding": 0}},
  "text": {"value": "5"}}},
{"data": {"values": [{}]},
 "mark": {"type": "text", "align": "left", "baseline": "middle", "fontSize": 11, "color": "#ee4d6a"},
 "encoding": {
  "x": {"datum": {"year": 2002, "month": 9, "date": 28, "utc": true}, "type": "temporal", "axis": null, "scale": {"type": "utc", "padding": 0, "domain": [{"year": 2001, "month": 4, "date": 28, "utc": true}, {"year": 2024, "month": 4, "date": 13, "utc": true}]}},
  "y": {"datum": 1916500, "type": "quantitative", "axis": null, "scale": {"domain": [-1164231, 2051154], "nice": false, "zero": false, "padding": 0}},
  "text": {"value": "20"}}},
{"data": {"values": [{}]},
 "mark": {"type": "text", "align": "left", "baseline": "middle", "fontSize": 11, "color": "#3fbf58"},
 "encoding": {
  "x": {"datum": {"year": 2003, "month": 1, "date": 17, "utc": true}, "type": "temporal", "axis": null, "scale": {"type": "utc", "padding": 0, "domain": [{"year": 2001, "month": 4, "date": 28, "utc": true}, {"year": 2024, "month": 4, "date": 13, "utc": true}]}},
  "y": {"datum": 1916500, "type": "quantitative", "axis": null, "scale": {"domain": [-1164231, 2051154], "nice": false, "zero": false, "padding": 0}},
  "text": {"value": "60"}}},
{"data": {"values": [{}]},
 "mark": {"type": "text", "align": "left", "baseline": "middle", "fontSize": 11, "color": "#2536c8"},
 "encoding": {
  "x": {"datum": {"year": 2003, "month": 5, "date": 10, "utc": true}, "type": "temporal", "axis": null, "scale": {"type": "utc", "padding": 0, "domain": [{"year": 2001, "month": 4, "date": 28, "utc": true}, {"year": 2024, "month": 4, "date": 13, "utc": true}]}},
  "y": {"datum": 1916500, "type": "quantitative", "axis": null, "scale": {"domain": [-1164231, 2051154], "nice": false, "zero": false, "padding": 0}},
  "text": {"value": "120"}}},
{"data": {"values": [{}]},
 "mark": {"type": "text", "align": "left", "baseline": "middle", "fontSize": 10.5, "color": "#666666"},
 "encoding": {
  "x": {"datum": {"year": 2001, "month": 6, "date": 1, "utc": true}, "type": "temporal", "axis": null, "scale": {"type": "utc", "padding": 0, "domain": [{"year": 2001, "month": 4, "date": 28, "utc": true}, {"year": 2024, "month": 4, "date": 13, "utc": true}]}},
  "y": {"datum": 12465000, "type": "quantitative", "axis": null, "scale": {"domain": [0, 46320000], "nice": false, "zero": false, "padding": 0}},
  "text": {"value": "거래량"}}},
{"data": {"values": [{}]},
 "mark": {"type": "text", "align": "left", "baseline": "middle", "fontSize": 11, "color": "#333333"},
 "encoding": {
  "x": {"datum": {"year": 2002, "month": 2, "date": 2, "utc": true}, "type": "temporal", "axis": null, "scale": {"type": "utc", "padding": 0, "domain": [{"year": 2001, "month": 4, "date": 28, "utc": true}, {"year": 2024, "month": 4, "date": 13, "utc": true}]}},
  "y": {"datum": 12465000, "type": "quantitative", "axis": null, "scale": {"domain": [0, 46320000], "nice": false, "zero": false, "padding": 0}},
  "text": {"value": "3,412,550"}}}
],
"resolve": {"scale": {"y": "independent"}, "axis": {"y": "independent"}}
}
